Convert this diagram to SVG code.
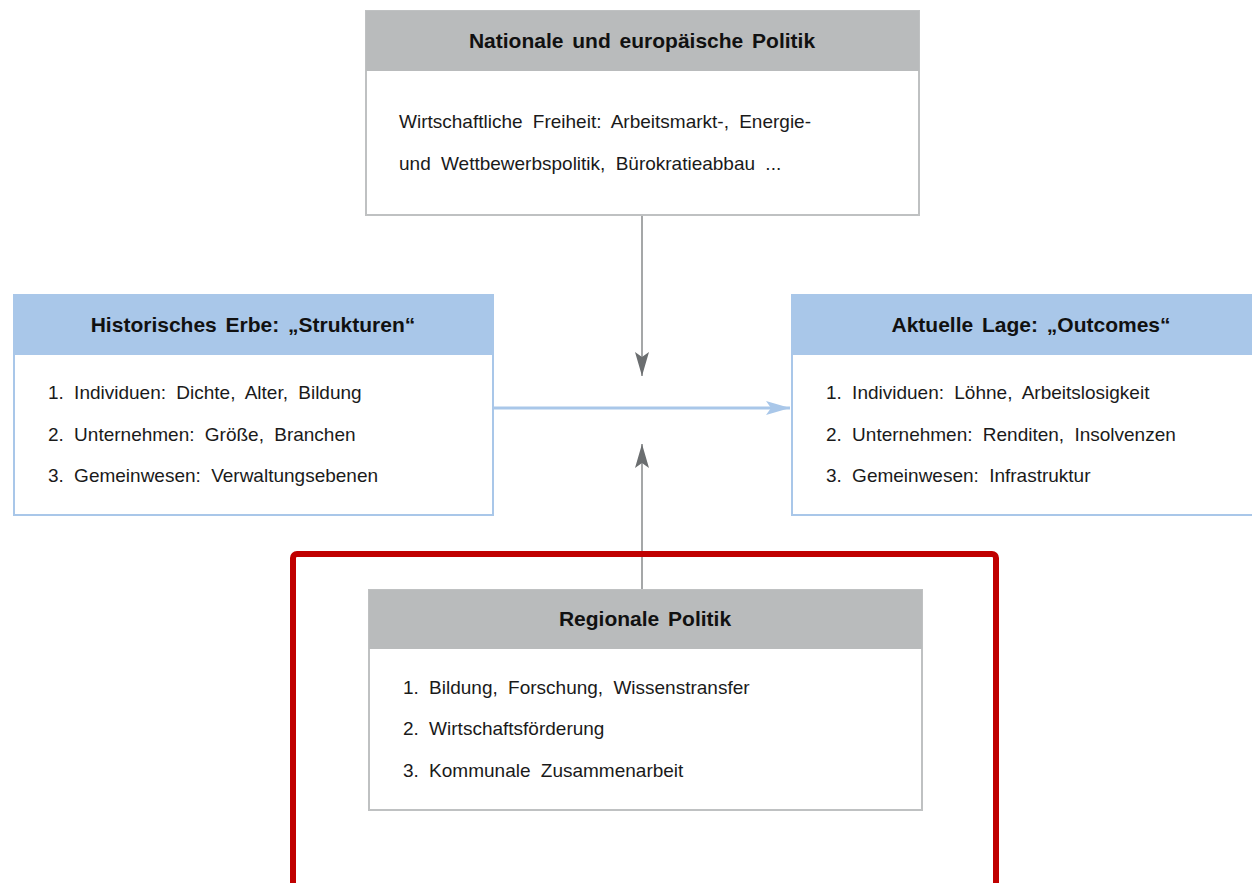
<svg xmlns="http://www.w3.org/2000/svg" width="1252" height="883" viewBox="0 0 1252 883">
<style>
.box{fill:#ffffff;stroke-width:2}
.gray{stroke:#bfc1c2}
.blue{stroke:#a9c7e9}
.hg{fill:#b9bbbc}
.hb{fill:#a9c7e9}
.t{font-family:"Liberation Sans",Arial,sans-serif;font-size:21px;font-weight:bold;fill:#111;text-anchor:middle;word-spacing:3px}
.b{font-family:"Liberation Sans",Arial,sans-serif;font-size:19px;fill:#1a1a1a;word-spacing:5px}
</style>
<defs>
<marker id="ag" viewBox="0 0 24 14" refX="24" refY="7" markerWidth="24" markerHeight="14" markerUnits="userSpaceOnUse" orient="auto">
<path d="M0,0 L24,7 L0,14 L5,7 Z" fill="#6b6e70"/>
</marker>
<marker id="ab" viewBox="0 0 24 14" refX="24" refY="7" markerWidth="24" markerHeight="14" markerUnits="userSpaceOnUse" orient="auto">
<path d="M0,0 L24,7 L0,14 L5,7 Z" fill="#a9c7e9"/>
</marker>
</defs>
<rect width="1252" height="883" fill="#ffffff"/>
<g id="connectors">
<line x1="642" y1="216" x2="642" y2="376" stroke="#a5a7a8" stroke-width="2" marker-end="url(#ag)"/>
<line x1="642" y1="590" x2="642" y2="444" stroke="#a5a7a8" stroke-width="2" marker-end="url(#ag)"/>
<line x1="494" y1="408" x2="790" y2="408" stroke="#a9c7e9" stroke-width="3" marker-end="url(#ab)"/>
</g>
<g id="national">
<rect class="box gray" x="366" y="11" width="553" height="204"/>
<rect class="hg" x="366" y="11" width="553" height="60"/>
<text class="t" x="642" y="48">Nationale und europäische Politik</text>
<text class="b" x="399" y="128">Wirtschaftliche Freiheit: Arbeitsmarkt-, Energie-</text>
<text class="b" x="399" y="170">und Wettbewerbspolitik, Bürokratieabbau ...</text>
</g>
<g id="historisch">
<rect class="box blue" x="14" y="295" width="479" height="220"/>
<rect class="hb" x="14" y="295" width="479" height="60"/>
<text class="t" x="253" y="332">Historisches Erbe: „Strukturen“</text>
<text class="b" x="48" y="399">1. Individuen: Dichte, Alter, Bildung</text>
<text class="b" x="48" y="441">2. Unternehmen: Größe, Branchen</text>
<text class="b" x="48" y="482">3. Gemeinwesen: Verwaltungsebenen</text>
</g>
<g id="aktuell">
<rect class="box blue" x="792" y="295" width="470" height="220"/>
<rect class="hb" x="792" y="295" width="470" height="60"/>
<text class="t" x="1031" y="332">Aktuelle Lage: „Outcomes“</text>
<text class="b" x="826" y="399">1. Individuen: Löhne, Arbeitslosigkeit</text>
<text class="b" x="826" y="441">2. Unternehmen: Renditen, Insolvenzen</text>
<text class="b" x="826" y="482">3. Gemeinwesen: Infrastruktur</text>
</g>
<g id="highlight">
<rect x="293" y="554" width="703" height="340" rx="4" fill="none" stroke="#c00000" stroke-width="6"/>
</g>
<g id="regional">
<rect class="box gray" x="369" y="590" width="553" height="220"/>
<rect class="hg" x="369" y="590" width="553" height="59"/>
<text class="t" x="645" y="626">Regionale Politik</text>
<text class="b" x="403" y="694">1. Bildung, Forschung, Wissenstransfer</text>
<text class="b" x="403" y="735">2. Wirtschaftsförderung</text>
<text class="b" x="403" y="777">3. Kommunale Zusammenarbeit</text>
</g>
</svg>
